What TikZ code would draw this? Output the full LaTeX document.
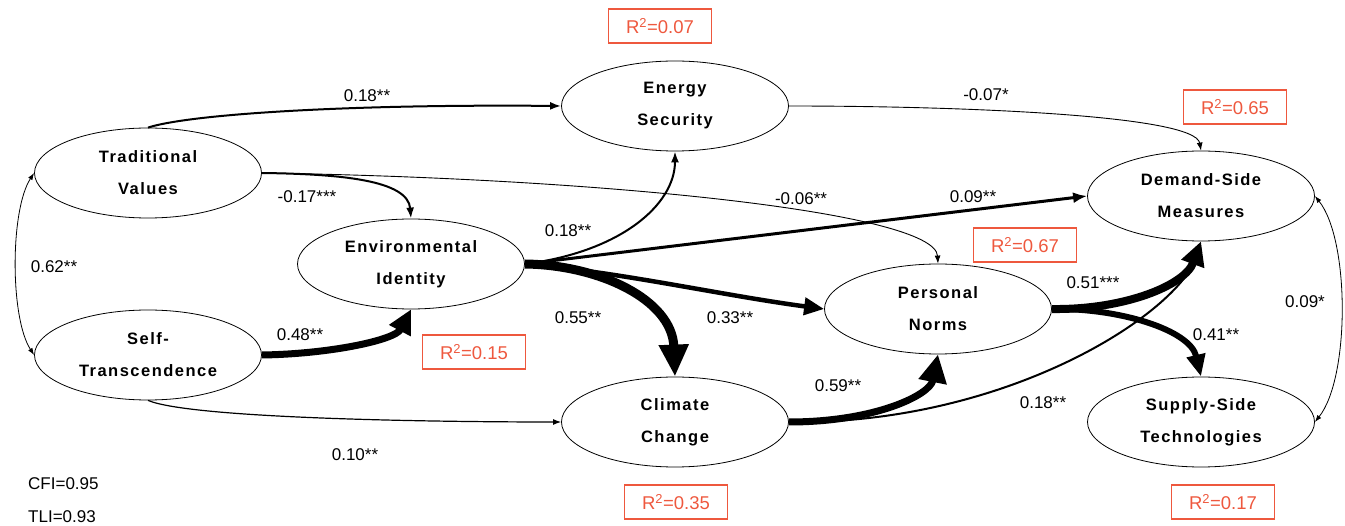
\documentclass[tikz,border=0pt]{standalone}
\usepackage{fontspec}
\setmainfont{Liberation Sans}
\newfontfamily\nodefont[LetterSpace=9]{Liberation Sans}
\usetikzlibrary{shapes.geometric, arrows.meta, calc}
\definecolor{rsq}{RGB}{238,88,62}

\begin{document}
\begin{tikzpicture}[x=1pt, y=-1pt,
  latent/.style={ellipse, draw, line width=0.8pt, minimum width=227pt, minimum height=90pt,
    inner sep=0pt, align=center, font=\nodefont\bfseries\fontsize{16.5}{32}\selectfont},
  coef/.style={inner sep=0pt, font=\fontsize{17}{19}\selectfont},
  rbox/.style={draw=rsq, text=rsq, line width=1.2pt, minimum width=103pt, minimum height=34pt,
    inner sep=0pt, font=\fontsize{18.5}{20}\selectfont},
  lightpath/.style={line width=0.9pt, -{Latex[length=8pt,width=6pt]}},
  medpath/.style={line width=2pt, -{Latex[length=11pt,width=8pt]}},
  boldpath/.style={line width=#1, -{Triangle[length=24pt,width=23pt]}},
  corr/.style={line width=0.8pt, {Latex[length=7pt,width=5pt]}-{Latex[length=7pt,width=5pt]}}]

\useasboundingbox (0,0) rectangle (1345,526);

% latent variables
\node[latent] (tv)  at (148,173)  {Traditional\\Values};
\node[latent] (st)  at (148,355)  {Self-\\Transcendence};
\node[latent] (ei)  at (411,264)  {Environmental\\Identity};
\node[latent] (es)  at (675,106)  {Energy\\Security};
\node[latent] (cc)  at (675,422)  {Climate\\Change};
\node[latent] (pn)  at (938,309)  {Personal\\Norms};
\node[latent] (dsm) at (1201,196) {Demand-Side\\Measures};
\node[latent] (sst) at (1201,422) {Supply-Side\\Technologies};

% explained variance
\node[rbox] (r2es)  at (660,26)   {R\textsuperscript{2}=0.07};
\node[rbox] (r2dsm) at (1235,107) {R\textsuperscript{2}=0.65};
\node[rbox] (r2pn)  at (1025,245) {R\textsuperscript{2}=0.67};
\node[rbox] (r2ei)  at (474,352)  {R\textsuperscript{2}=0.15};
\node[rbox] (r2cc)  at (676,502)  {R\textsuperscript{2}=0.35};
\node[rbox] (r2sst) at (1223,502) {R\textsuperscript{2}=0.17};

% paths
\draw[medpath] (tv.north) .. controls (190,114) and (350,104) .. (es.west);
\draw[medpath] (tv.east) .. controls (340,174) and (408,180) .. (ei.north);
\draw[lightpath] (tv.east) .. controls (600,178) and (935,212) .. (pn.north);
\draw[corr] (tv.west) .. controls (10,210) and (10,318) .. (st.west);
\draw[boldpath=7pt] (st.east) .. controls (330,354) and (395,340) .. (ei.south);
\draw[lightpath, line width=1.2pt] (st.south) .. controls (190,418) and (420,422) .. (cc.west);
\draw[medpath] (ei.east) .. controls (620,252) and (675,205) .. (es.south);
\draw[boldpath=3pt, -{Latex[length=14pt,width=11pt]}] (ei.east) -- (dsm.west);
\draw[boldpath=9pt, -{Triangle[length=32pt,width=28pt]}] (ei.east) .. controls (600,265) and (672,300) .. (cc.north);
\draw[boldpath=4.5pt, -{Triangle[length=20pt,width=17pt]}] (ei.east) .. controls (620,272) and (720,295) .. (pn.west);
\draw[lightpath] (es.east) .. controls (960,106) and (1195,115) .. (dsm.north);
\draw[boldpath=7pt, -{Triangle[length=28pt,width=27pt]}] (cc.east) .. controls (875,422) and (930,395) .. (pn.south);
\draw[medpath] (cc.east) .. controls (1010,425) and (1185,310) .. (dsm.south);
\draw[boldpath=8pt] (pn.east) .. controls (1125,310) and (1185,285) .. (dsm.south);
\draw[boldpath=6pt, -{Triangle[length=22pt,width=18pt]}] (pn.east) .. controls (1120,308) and (1190,330) .. (sst.north);
\draw[corr] (dsm.east) .. controls (1350,240) and (1350,378) .. (sst.east);

% coefficients
\node[coef] (c1)  at (367,96)   {0.18**};
\node[coef] (c2)  at (307,197)  {-0.17***};
\node[coef] (c3)  at (801,199)  {-0.06**};
\node[coef] (c4)  at (54,267)   {0.62**};
\node[coef] (c5)  at (300,335)  {0.48**};
\node[coef] (c6)  at (355,455)  {0.10**};
\node[coef] (c7)  at (568,231)  {0.18**};
\node[coef] (c8)  at (973,197)  {0.09**};
\node[coef] (c9)  at (578,318)  {0.55**};
\node[coef] (c10) at (730,318)  {0.33**};
\node[coef] (c11) at (986,95)   {-0.07*};
\node[coef] (c12) at (838,386)  {0.59**};
\node[coef] (c13) at (1043,403) {0.18**};
\node[coef] (c14) at (1093,283) {0.51***};
\node[coef] (c15) at (1216,335) {0.41**};
\node[coef] (c16) at (1305,302) {0.09*};

% fit indices
\node[coef, anchor=west] (cfi) at (28,484) {CFI=0.95};
\node[coef, anchor=west] (tli) at (28,517) {TLI=0.93};

\end{tikzpicture}
\end{document}
